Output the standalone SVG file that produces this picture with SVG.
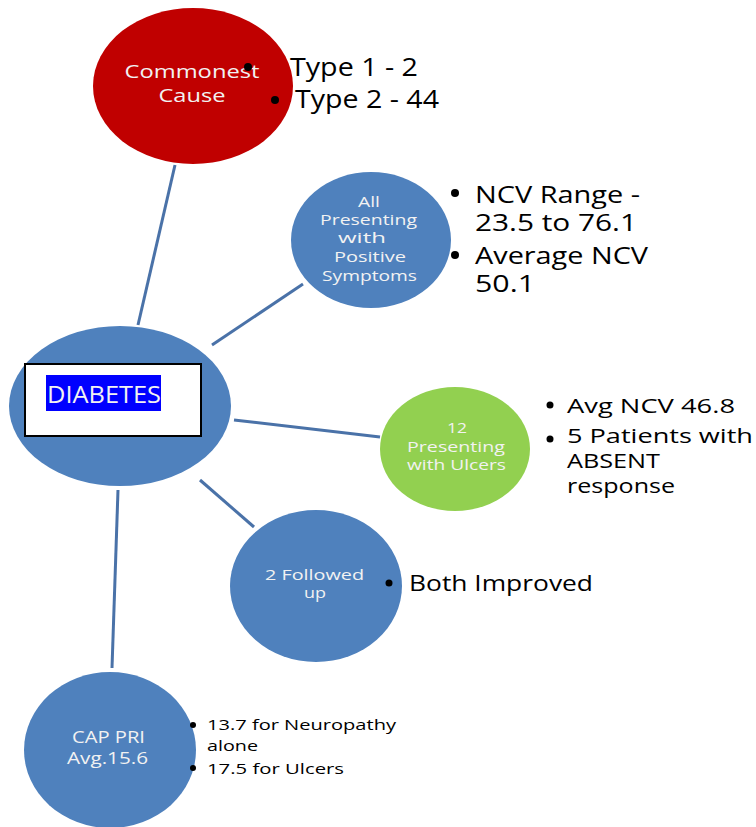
<svg xmlns="http://www.w3.org/2000/svg" width="756" height="827" viewBox="0 0 756 827">
<style>
.lbl{font-family:"Open Sans","Noto Sans",sans-serif;fill:#f2f2f2;text-anchor:middle}
.blt{font-family:"Open Sans","Noto Sans",sans-serif;fill:#000}
.conn line{stroke:#4a72a8;stroke-width:3}
</style>
<rect width="756" height="827" fill="#fff"/>
<g class="conn" id="connectors">
<line x1="175" y1="165" x2="138" y2="325"/>
<line x1="212" y1="345" x2="303" y2="284"/>
<line x1="234" y1="420" x2="380" y2="437"/>
<line x1="200" y1="480" x2="254" y2="527"/>
<line x1="118" y1="490" x2="112" y2="668"/>
</g>
<g id="commonest">
<ellipse cx="193" cy="86" rx="100" ry="78" fill="#c00000"/>
<text class="lbl" font-size="18" x="192" y="78" textLength="135" lengthAdjust="spacingAndGlyphs">Commonest</text>
<text class="lbl" font-size="18" x="192" y="102" textLength="67" lengthAdjust="spacingAndGlyphs">Cause</text>
<circle cx="248" cy="67" r="4" fill="#000"/>
<circle cx="275" cy="100" r="4" fill="#000"/>
<text class="blt" font-size="25" x="290" y="76" textLength="128" lengthAdjust="spacingAndGlyphs">Type 1 - 2</text>
<text class="blt" font-size="25" x="295" y="108" textLength="144" lengthAdjust="spacingAndGlyphs">Type 2 - 44</text>
</g>
<g id="positive">
<ellipse cx="371" cy="240" rx="80" ry="68" fill="#4f81bd"/>
<text class="lbl" font-size="15" x="369" y="207" textLength="22" lengthAdjust="spacingAndGlyphs">All</text>
<text class="lbl" font-size="15" x="368.5" y="225" textLength="97" lengthAdjust="spacingAndGlyphs">Presenting</text>
<text class="lbl" font-size="15" x="362" y="243" textLength="48" lengthAdjust="spacingAndGlyphs">with</text>
<text class="lbl" font-size="15" x="370" y="262" textLength="72" lengthAdjust="spacingAndGlyphs">Positive</text>
<text class="lbl" font-size="15" x="369.5" y="281" textLength="95" lengthAdjust="spacingAndGlyphs">Symptoms</text>
<circle cx="455" cy="193" r="4" fill="#000"/>
<circle cx="455" cy="255" r="4" fill="#000"/>
<text class="blt" font-size="24" x="475" y="203" textLength="165" lengthAdjust="spacingAndGlyphs">NCV Range -</text>
<text class="blt" font-size="24" x="475" y="231" textLength="162" lengthAdjust="spacingAndGlyphs">23.5 to 76.1</text>
<text class="blt" font-size="24" x="475" y="264" textLength="173" lengthAdjust="spacingAndGlyphs">Average NCV</text>
<text class="blt" font-size="24" x="475" y="292" textLength="60" lengthAdjust="spacingAndGlyphs">50.1</text>
</g>
<g id="diabetes">
<ellipse cx="120" cy="406" rx="111" ry="80" fill="#4f81bd"/>
<rect x="25" y="364" width="176" height="72" fill="#fff" stroke="#000" stroke-width="2"/>
<rect x="46" y="375" width="115" height="36" fill="#0000ff"/>
<text font-family="Open Sans,Noto Sans,sans-serif" font-size="24" fill="#f2f2f2" x="47" y="403" textLength="114" lengthAdjust="spacingAndGlyphs">DIABETES</text>
</g>
<g id="ulcers">
<ellipse cx="455" cy="449" rx="75" ry="62" fill="#92d050"/>
<text class="lbl" font-size="15" x="457" y="433" textLength="20" lengthAdjust="spacingAndGlyphs">12</text>
<text class="lbl" font-size="15" x="456" y="452" textLength="98" lengthAdjust="spacingAndGlyphs">Presenting</text>
<text class="lbl" font-size="15" x="456.5" y="470" textLength="99" lengthAdjust="spacingAndGlyphs">with Ulcers</text>
<circle cx="550" cy="405" r="3.5" fill="#000"/>
<circle cx="550" cy="439" r="3.5" fill="#000"/>
<text class="blt" font-size="20" x="567" y="413" textLength="168" lengthAdjust="spacingAndGlyphs">Avg NCV 46.8</text>
<text class="blt" font-size="20" x="567" y="443" textLength="186" lengthAdjust="spacingAndGlyphs">5 Patients with</text>
<text class="blt" font-size="20" x="567" y="468" textLength="93" lengthAdjust="spacingAndGlyphs">ABSENT</text>
<text class="blt" font-size="20" x="567" y="493" textLength="108" lengthAdjust="spacingAndGlyphs">response</text>
</g>
<g id="followed">
<ellipse cx="316" cy="586" rx="86" ry="76" fill="#4f81bd"/>
<text class="lbl" font-size="15" x="314.5" y="580" textLength="99" lengthAdjust="spacingAndGlyphs">2 Followed</text>
<text class="lbl" font-size="15" x="315" y="598" textLength="22" lengthAdjust="spacingAndGlyphs">up</text>
<circle cx="389" cy="583" r="3.5" fill="#000"/>
<text class="blt" font-size="22" x="409" y="591" textLength="184" lengthAdjust="spacingAndGlyphs">Both Improved</text>
</g>
<g id="cappri">
<ellipse cx="110" cy="750" rx="86" ry="78" fill="#4f81bd"/>
<text class="lbl" font-size="17" x="108.5" y="743" textLength="73" lengthAdjust="spacingAndGlyphs">CAP PRI</text>
<text class="lbl" font-size="17" x="107.5" y="764" textLength="81" lengthAdjust="spacingAndGlyphs">Avg.15.6</text>
<circle cx="193" cy="725" r="3" fill="#000"/>
<circle cx="193" cy="768" r="3" fill="#000"/>
<text class="blt" font-size="15" x="207" y="730" textLength="189" lengthAdjust="spacingAndGlyphs">13.7 for Neuropathy</text>
<text class="blt" font-size="15" x="207" y="751" textLength="51" lengthAdjust="spacingAndGlyphs">alone</text>
<text class="blt" font-size="15" x="207" y="774" textLength="137" lengthAdjust="spacingAndGlyphs">17.5 for Ulcers</text>
</g>
</svg>
